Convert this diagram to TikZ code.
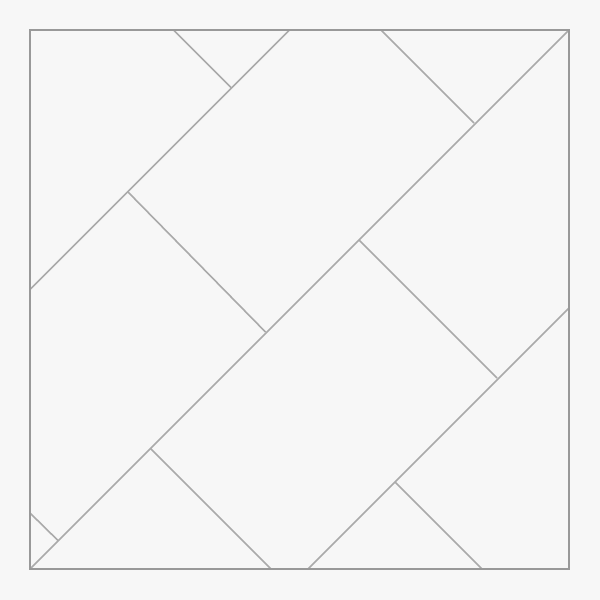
\documentclass[tikz,border=0pt]{standalone}
\definecolor{bg}{HTML}{F7F7F7}
\definecolor{frame}{HTML}{999999}
\definecolor{ln}{HTML}{AAAAAA}
\begin{document}
\begin{tikzpicture}[x=0.5pt,y=-0.5pt,
  edge/.style={draw=ln,line width=0.8pt},
  border/.style={draw=frame,line width=0.7pt}]
\fill[bg] (0,0) rectangle (600,600);
\useasboundingbox (0,0) rectangle (600,600);
\coordinate (A1) at (173.5,30);
\coordinate (A2) at (231.5,88);
\coordinate (B1) at (289.5,30);
\coordinate (B2) at (30,289.5);
\coordinate (C1) at (381,30);
\coordinate (C2) at (474,123);
\coordinate (D1) at (569,30);
\coordinate (D2) at (30,569);
\coordinate (E1) at (128,192);
\coordinate (E2) at (265.5,332);
\coordinate (F1) at (359,240);
\coordinate (F2) at (497,378);
\coordinate (G1) at (569,308);
\coordinate (G2) at (308,569);
\coordinate (H1) at (150.5,448.5);
\coordinate (H2) at (271,569);
\coordinate (I1) at (395,482);
\coordinate (I2) at (482,569);
\coordinate (J1) at (30,513);
\coordinate (J2) at (58,540.5);
\draw[edge] (A1) -- (A2);
\draw[edge] (B1) -- (B2);
\draw[edge] (C1) -- (C2);
\draw[edge] (D1) -- (D2);
\draw[edge] (E1) -- (E2);
\draw[edge] (F1) -- (F2);
\draw[edge] (G1) -- (G2);
\draw[edge] (H1) -- (H2);
\draw[edge] (I1) -- (I2);
\draw[edge] (J1) -- (J2);
\draw[border] (30,30) rectangle (569,569);
\end{tikzpicture}
\end{document}
